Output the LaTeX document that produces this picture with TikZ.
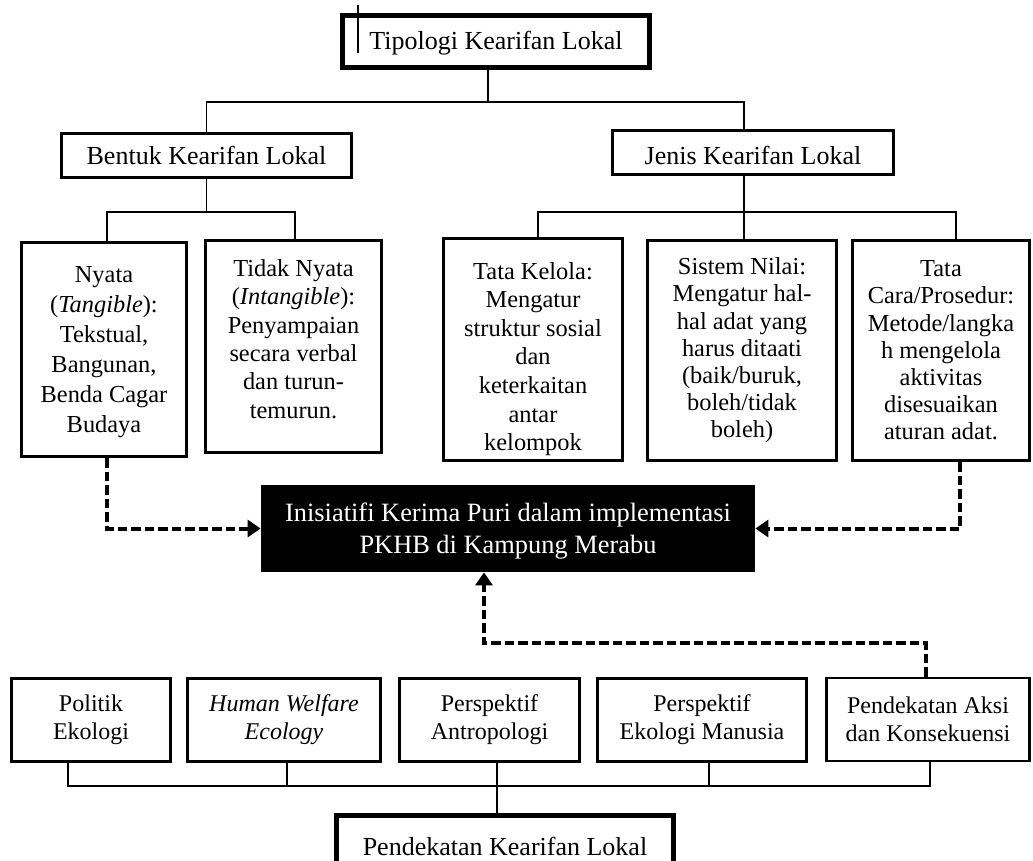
\documentclass[tikz,border=0pt]{standalone}
\usepackage{fontspec}
\setmainfont{Liberation Serif}
\usetikzlibrary{arrows.meta,calc}

\begin{document}
\begin{tikzpicture}[x=0.5pt, y=-0.5pt,
    topbox/.style={rectangle, draw, line width=2.5pt, inner sep=0pt, align=center, font=\fontsize{13}{16}\selectfont},
    headbox/.style={rectangle, draw, line width=1.25pt, inner sep=0pt, align=center, font=\fontsize{13}{16}\selectfont},
    itembox/.style={rectangle, draw, line width=1.5pt, inner sep=0pt, align=center, font=\fontsize{12.2}{13.6}\selectfont},
    boxtext/.style={inner sep=0pt, align=center, font=\fontsize{12.2}{14.2}\selectfont},
    factorbox/.style={rectangle, draw, line width=1.4pt, inner sep=0pt, align=center, minimum height=41.5pt, font=\fontsize{12}{14}\selectfont},
    focusbox/.style={rectangle, fill=black, text=white, inner sep=0pt, align=center, font=\fontsize{13.2}{16}\selectfont},
    link/.style={line width=0.6pt},
    dashlink/.style={-{Triangle[length=6.5pt,width=8.5pt]}, line width=2pt, dash pattern=on 4.75pt off 2pt}]

    \useasboundingbox (0,0) rectangle (1033,861);
    \clip (0,0) rectangle (1033,861);

    % top of the tree
    \node[topbox, minimum width=153.5pt, minimum height=26pt, text height=10.5pt] (tipologi) at (496,41.5) {Tipologi Kearifan Lokal};
    \node[headbox, minimum width=145pt, minimum height=22pt] (bentuk) at (206.5,155.5) {Bentuk Kearifan Lokal};
    \node[headbox, minimum width=140.5pt, minimum height=22pt, text height=12pt] (jenis) at (753,152.5) {Jenis Kearifan Lokal};

    % forms
    \node[itembox, minimum width=82.5pt, minimum height=107pt] (nyata) at (104,349.5) {};
    \node[boxtext, font=\fontsize{12.2}{15}\selectfont] (nyata-text) at ([yshift=-1.5pt]nyata.center) {Nyata\\(\textit{Tangible}):\\Tekstual,\\Bangunan,\\Benda Cagar\\Budaya};
    \node[itembox, minimum width=88pt, minimum height=106pt] (tidak) at (293.5,346.5) {};
    \node[boxtext] (tidak-text) at ([yshift=3.75pt]tidak.center) {Tidak Nyata\\(\textit{Intangible}):\\Penyampaian\\secara verbal\\dan turun-\\temurun.};

    % kinds
    \node[itembox, minimum width=89.5pt, minimum height=111pt] (kelola) at (533,349.5) {};
    \node[boxtext, font=\fontsize{12.2}{14.3}\selectfont] (kelola-text) at ([yshift=-4.75pt]kelola.center) {Tata Kelola:\\Mengatur\\struktur sosial\\dan\\keterkaitan\\antar\\kelompok};
    \node[itembox, minimum width=94.5pt, minimum height=110pt] (nilai) at (742,350.5) {Sistem Nilai:\\Mengatur hal-\\hal adat yang\\harus ditaati\\(baik/buruk,\\boleh/tidak\\boleh)};
    \node[itembox, minimum width=88.5pt, minimum height=110pt] (cara) at (941,350.5) {Tata\\Cara/Prosedur:\\Metode/langka\\h mengelola\\aktivitas\\disesuaikan\\aturan adat.};

    % focus
    \node[focusbox, minimum width=247pt, minimum height=43.5pt] (inisiatif) at (508,528.5) {};
    \node[boxtext, text=white, font=\fontsize{13.2}{16}\selectfont] (inisiatif-text) at ([yshift=-1.5pt]inisiatif.center) {Inisiatifi Kerima Puri dalam implementasi\\PKHB di Kampung Merabu};

    % approaches
    \node[factorbox, minimum width=79.5pt] (politik) at (91,720) {Politik\\Ekologi};
    \node[factorbox, minimum width=96.5pt] (welfare) at (284,720) {\textit{Human Welfare}\\\textit{Ecology}};
    \node[factorbox, minimum width=90pt] (antro) at (489.5,720) {Perspektif\\Antropologi};
    \node[factorbox, minimum width=104.5pt] (manusia) at (702,720) {Perspektif\\Ekologi Manusia};
    \node[factorbox, minimum width=101.5pt] (aksi) at (928,719.5) {Pendekatan Aksi\\dan Konsekuensi};
    \node[topbox, minimum width=168.5pt, minimum height=30.5pt] (pendekatan) at (505,846) {Pendekatan Kearifan Lokal};

    % junction points
    \coordinate (cursor) at (358,5);
    \coordinate (bus1) at (0,102);
    \coordinate (bus2) at (0,212);
    \coordinate (turn) at (484,643);
    \coordinate (bus3) at (0,786);
    \coordinate (tipologi-s) at ([xshift=-4pt]tipologi.south);
    \coordinate (jenis-n) at ([xshift=-4.5pt]jenis.north);
    \coordinate (jenis-s) at ([xshift=-4.5pt]jenis.south);
    \coordinate (nyata-n) at ([xshift=1.5pt]nyata.north);
    \coordinate (tidak-n) at ([xshift=0.75pt]tidak.north);
    \coordinate (kelola-n) at ([xshift=2.5pt]kelola.north);
    \coordinate (nilai-n) at ([xshift=1pt]nilai.north);
    \coordinate (cara-n) at ([xshift=7.5pt]cara.north);
    \coordinate (politik-s) at ([xshift=-11.5pt]politik.south);
    \coordinate (welfare-s) at ([xshift=1.5pt]welfare.south);
    \coordinate (antro-s) at ([xshift=3.75pt]antro.south);
    \coordinate (manusia-s) at ([xshift=3.5pt]manusia.south);
    \coordinate (aksi-s) at ([xshift=1pt]aksi.south);

    \draw[link] (cursor) -- ++(0,48);

    \draw[link] (tipologi-s) -- (bus1 -| tipologi-s);
    \draw[link] (bentuk.north) |- (bus1 -| jenis-n) -- (jenis-n);

    \draw[link] (bentuk.south) -- (bus2 -| bentuk.south);
    \draw[link] (nyata-n) |- (bus2 -| tidak-n) -- (tidak-n);

    \draw[link] (jenis-s) -- (bus2 -| jenis-s);
    \draw[link] (kelola-n) |- (bus2 -| cara-n) -- (cara-n);
    \draw[link] (nilai-n) -- (bus2 -| nilai-n);

    \draw[dashlink] ([xshift=1.5pt]nyata.south) |- (inisiatif.west);
    \draw[dashlink] ([xshift=9.5pt]cara.south) |- (inisiatif.east);
    \draw[dashlink] ([xshift=-1pt]aksi.north) |- (turn) -- (turn |- inisiatif.south);

    \draw[link] (politik-s) |- (bus3 -| aksi-s) -- (aksi-s);
    \draw[link] (welfare-s) -- (bus3 -| welfare-s);
    \draw[link] (antro-s) -- (pendekatan.north -| antro-s);
    \draw[link] (manusia-s) -- (bus3 -| manusia-s);

\end{tikzpicture}
\end{document}
